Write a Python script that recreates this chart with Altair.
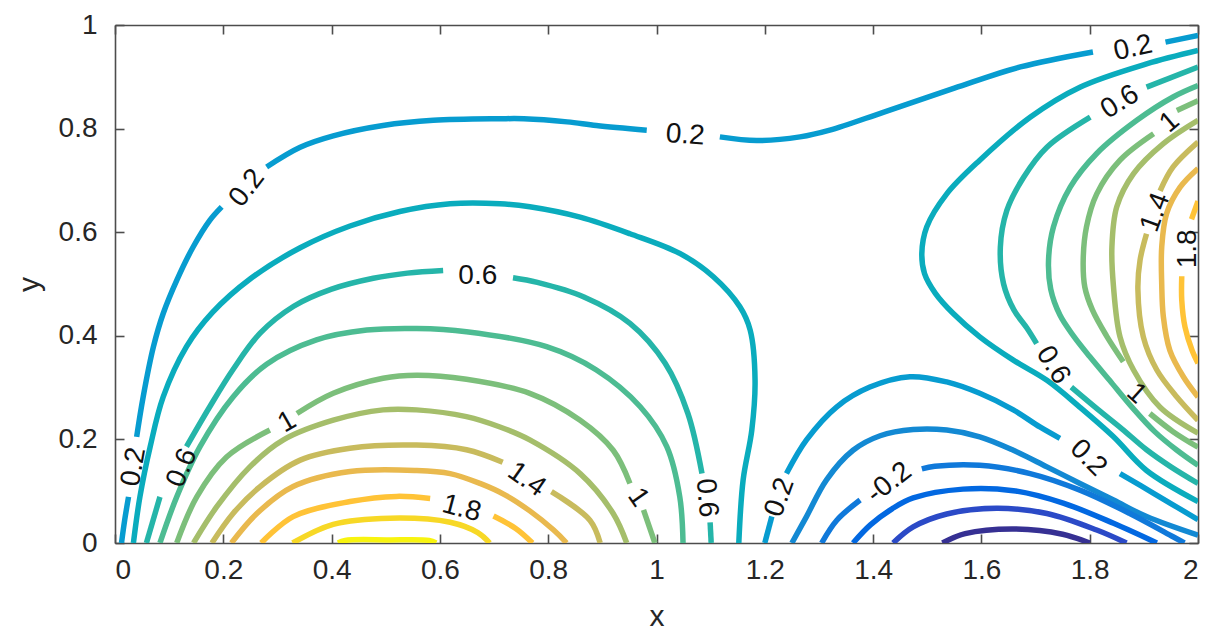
import altair as alt
import pandas as pd

# ---------------- contour levels and colours ----------------
levels = [-0.8, -0.6, -0.4, -0.2, 0.0, 0.2, 0.4, 0.6, 0.8, 1.0, 1.2, 1.4, 1.6, 1.8, 2.0, 2.2]
level_colors = ["#363093", "#2b4ac7", "#0268e1", "#1079da", "#1389d3", "#079cd0",
                "#0aacbd", "#25b5a9", "#4dbc92", "#7cbf7b", "#a5be6b", "#c8bb5d",
                "#e9b94e", "#ffc337", "#f7d826", "#f8f40f"]

x_ticks = [0, 0.2, 0.4, 0.6, 0.8, 1, 1.2, 1.4, 1.6, 1.8, 2]
y_ticks = [0, 0.2, 0.4, 0.6, 0.8, 1]

# ---------------- contour paths (x, y) ----------------
# level 0.2, long line across the top
c02_a = [(0.012, 0), (0.018, 0.045), (0.025, 0.089)]
c02_b = [(0.040, 0.205), (0.052, 0.282), (0.071, 0.379), (0.089, 0.443), (0.114, 0.507),
         (0.144, 0.571), (0.175, 0.623), (0.197, 0.649)]
c02_c = [(0.280, 0.726), (0.342, 0.764), (0.403, 0.786), (0.495, 0.806), (0.588, 0.816),
         (0.711, 0.819), (0.755, 0.819), (0.835, 0.813), (0.889, 0.806), (0.982, 0.797)]
c02_d = [(1.117, 0.784), (1.185, 0.777), (1.265, 0.784), (1.320, 0.797), (1.420, 0.832),
         (1.550, 0.878), (1.672, 0.919), (1.806, 0.948)]
c02_e = [(1.940, 0.967), (2.0, 0.980)]
# level 0.2, lower right
c02_f = [(1.200, 0), (1.213, 0.051)]
c02_g = [(1.240, 0.134), (1.277, 0.199), (1.333, 0.263), (1.394, 0.301), (1.468, 0.321),
         (1.536, 0.311), (1.597, 0.289), (1.659, 0.257), (1.708, 0.224), (1.745, 0.202)]
c02_h = [(1.856, 0.134), (1.918, 0.096), (2.0, 0.045)]

# left lobe (maximum near x = 0.5, y = 0)
c04_left = [(0.034, 0), (0.046, 0.089), (0.065, 0.186), (0.089, 0.282), (0.132, 0.379),
            (0.180, 0.445), (0.250, 0.510), (0.342, 0.570), (0.434, 0.612), (0.526, 0.640),
            (0.619, 0.655), (0.711, 0.655), (0.766, 0.649), (0.859, 0.629), (0.951, 0.597),
            (1.043, 0.559), (1.105, 0.514), (1.154, 0.456), (1.173, 0.411), (1.182, 0.314),
            (1.176, 0.218), (1.160, 0.122), (1.152, 0)]
c06_a = [(0.058, 0), (0.083, 0.089)]
c06_b = [(0.132, 0.186), (0.175, 0.263), (0.218, 0.335), (0.268, 0.405), (0.330, 0.457),
         (0.400, 0.490), (0.477, 0.511), (0.540, 0.521), (0.606, 0.526)]
c06_c = [(0.735, 0.512), (0.780, 0.503), (0.866, 0.475), (0.951, 0.424), (1.016, 0.347),
         (1.058, 0.250), (1.084, 0.134)]
c06_d = [(1.099, 0.040), (1.101, 0)]
c08_left = [(0.083, 0), (0.114, 0.089), (0.157, 0.186), (0.218, 0.282), (0.280, 0.345),
            (0.372, 0.392), (0.465, 0.411), (0.557, 0.414), (0.649, 0.408), (0.797, 0.379),
            (0.889, 0.334), (0.970, 0.263), (1.019, 0.186), (1.043, 0.089), (1.049, 0)]
c10_a = [(0.114, 0), (0.151, 0.089), (0.206, 0.166), (0.286, 0.218)]
c10_b = [(0.336, 0.250), (0.403, 0.289), (0.495, 0.318), (0.557, 0.324), (0.649, 0.316),
         (0.766, 0.289), (0.859, 0.237), (0.920, 0.179), (0.951, 0.115)]
c10_c = [(0.976, 0.064), (0.997, 0)]
c12_left = [(0.145, 0), (0.188, 0.070), (0.249, 0.147), (0.311, 0.199), (0.403, 0.237),
            (0.495, 0.257), (0.557, 0.257), (0.649, 0.244), (0.711, 0.224), (0.766, 0.199),
            (0.859, 0.134), (0.920, 0.057), (0.945, 0)]
c14_a = [(0.179, 0), (0.218, 0.057), (0.268, 0.109), (0.342, 0.160), (0.434, 0.183),
         (0.557, 0.189), (0.649, 0.180), (0.716, 0.156)]
c14_b = [(0.806, 0.099), (0.877, 0.044), (0.896, 0)]
c16_left = [(0.215, 0), (0.262, 0.057), (0.329, 0.109), (0.434, 0.138), (0.557, 0.140),
            (0.619, 0.134), (0.674, 0.115), (0.720, 0.093), (0.766, 0.062), (0.810, 0.025),
            (0.834, 0)]
c18_a = [(0.270, 0), (0.329, 0.051), (0.434, 0.080), (0.520, 0.090), (0.582, 0.086)]
c18_b = [(0.699, 0.052), (0.740, 0.028), (0.771, 0)]
c20_left = [(0.328, 0), (0.403, 0.036), (0.508, 0.048), (0.619, 0.040), (0.670, 0.020),
            (0.692, 0)]
c22_left = [(0.412, 0), (0.425, 0.005), (0.505, 0.006), (0.580, 0.005), (0.593, 0)]

# right lobe (maximum near x = 2, y = 0.5)
c04_right = [(2.0, 0.951), (1.905, 0.925), (1.782, 0.880), (1.690, 0.822), (1.597, 0.739),
             (1.536, 0.674), (1.499, 0.610), (1.490, 0.559), (1.495, 0.520), (1.515, 0.482),
             (1.548, 0.443), (1.597, 0.398), (1.659, 0.353), (1.721, 0.314), (1.782, 0.262),
             (1.844, 0.205), (1.905, 0.140), (2.0, 0.080)]
c06_e = [(2.0, 0.919), (1.905, 0.880)]
c06_f = [(1.801, 0.822), (1.721, 0.764), (1.678, 0.706), (1.647, 0.642), (1.635, 0.571),
         (1.641, 0.500), (1.660, 0.450), (1.684, 0.415), (1.702, 0.385)]
c06_g = [(1.766, 0.301), (1.815, 0.258), (1.860, 0.220), (1.905, 0.180), (1.950, 0.147),
         (2.0, 0.115)]
c08_right = [(2.0, 0.883), (1.954, 0.861), (1.887, 0.816), (1.813, 0.752), (1.764, 0.687),
             (1.733, 0.610), (1.724, 0.546), (1.728, 0.490), (1.745, 0.440), (1.770, 0.400),
             (1.800, 0.360), (1.840, 0.310), (1.880, 0.260), (1.920, 0.215), (1.960, 0.180),
             (2.0, 0.150)]
c10_d = [(2.0, 0.854), (1.961, 0.835)]
c10_e = [(1.918, 0.790), (1.856, 0.739), (1.813, 0.674), (1.794, 0.610), (1.788, 0.546),
         (1.791, 0.494), (1.805, 0.450), (1.831, 0.400), (1.862, 0.350)]
c10_f = [(1.911, 0.250), (1.954, 0.215), (2.0, 0.185)]
c12_right = [(2.0, 0.816), (1.936, 0.771), (1.881, 0.713), (1.850, 0.649), (1.841, 0.571),
             (1.844, 0.494), (1.856, 0.398), (1.881, 0.334), (1.930, 0.262), (2.0, 0.212)]
c14_c = [(2.0, 0.774), (1.954, 0.726), (1.930, 0.680)]
c14_d = [(1.905, 0.597), (1.893, 0.546), (1.889, 0.490), (1.899, 0.398), (1.924, 0.334),
         (1.961, 0.282), (2.0, 0.237)]
c16_right = [(2.0, 0.723), (1.967, 0.687), (1.942, 0.636), (1.933, 0.571), (1.933, 0.500),
             (1.936, 0.437), (1.948, 0.372), (1.973, 0.321), (2.0, 0.282)]
c18_c = [(2.0, 0.660), (1.988, 0.625)]
c18_d = [(1.970, 0.515), (1.970, 0.469), (1.976, 0.417), (1.989, 0.372), (2.0, 0.347)]

# lower right (minimum near x = 1.65, y = 0)
c00_line = [(1.250, 0), (1.277, 0.051), (1.314, 0.122), (1.363, 0.179), (1.413, 0.207),
            (1.474, 0.219), (1.536, 0.218), (1.597, 0.205), (1.659, 0.179), (1.721, 0.147),
            (1.782, 0.115), (1.844, 0.083), (1.905, 0.051), (2.0, 0.015)]
cm02_a = [(1.305, 0), (1.333, 0.044), (1.376, 0.083)]
cm02_b = [(1.490, 0.143), (1.514, 0.148), (1.597, 0.150), (1.690, 0.134), (1.782, 0.102),
          (1.874, 0.057), (1.954, 0.012), (1.975, 0)]
cm04_line = [(1.363, 0), (1.395, 0.035), (1.435, 0.066), (1.474, 0.087), (1.566, 0.104),
             (1.659, 0.101), (1.751, 0.077), (1.844, 0.038), (1.924, 0)]
cm06_line = [(1.437, 0), (1.474, 0.031), (1.536, 0.056), (1.628, 0.067), (1.721, 0.057),
             (1.813, 0.025), (1.868, 0)]
cm08_line = [(1.528, 0), (1.570, 0.018), (1.660, 0.027), (1.750, 0.017), (1.800, 0)]

left_paths = [
    (0.2, c02_a), (0.2, c02_b), (0.2, c02_c), (0.2, c02_d), (0.2, c02_e),
    (0.4, c04_left), (0.6, c06_a), (0.6, c06_b), (0.6, c06_c), (0.6, c06_d),
    (0.8, c08_left), (1.0, c10_a), (1.0, c10_b), (1.0, c10_c), (1.2, c12_left),
    (1.4, c14_a), (1.4, c14_b), (1.6, c16_left), (1.8, c18_a), (1.8, c18_b),
    (2.0, c20_left), (2.2, c22_left),
]
right_paths = [
    (0.2, c02_f), (0.2, c02_g), (0.2, c02_h),
    (0.4, c04_right), (0.6, c06_e), (0.6, c06_f), (0.6, c06_g), (0.8, c08_right),
    (1.0, c10_d), (1.0, c10_e), (1.0, c10_f), (1.2, c12_right), (1.4, c14_c), (1.4, c14_d),
    (1.6, c16_right), (1.8, c18_c), (1.8, c18_d),
    (0.0, c00_line), (-0.2, cm02_a), (-0.2, cm02_b), (-0.4, cm04_line),
    (-0.6, cm06_line), (-0.8, cm08_line),
]

# inline contour labels
label_x = [0.035, 0.124, 0.244, 0.318, 0.670, 1.053, 0.760, 0.640, 0.966, 1.092, 1.228,
           1.430, 1.797, 1.732, 1.886, 1.880, 1.856, 1.948, 1.922, 1.982]
label_y = [0.147, 0.145, 0.685, 0.233, 0.515, 0.787, 0.122, 0.066, 0.088, 0.087, 0.088,
           0.116, 0.164, 0.343, 0.288, 0.955, 0.851, 0.812, 0.638, 0.568]
label_text = ["0.2", "0.6", "0.2", "1", "0.6", "0.2", "1.4", "1.8", "1", "0.6", "0.2",
              "-0.2", "0.2", "0.6", "1", "0.2", "0.6", "1", "1.4", "1.8"]
label_angle = [280, 293, 308, 330, 0, 4, 35, 15, 55, 85, 290,
               322, 45, 58, 42, 348, 328, 320, 290, 270]


def to_frame(paths, prefix):
    rows = []
    for k, (lev, pts) in enumerate(paths):
        for i, (px, py) in enumerate(pts):
            rows.append({"x": px, "y": py, "level": lev, "seg": f"{prefix}{k}", "i": i})
    return pd.DataFrame(rows)


df_left = to_frame(left_paths, "L")
df_right = to_frame(right_paths, "R")
df_labels = pd.DataFrame({"x": label_x, "y": label_y, "t": label_text, "a": label_angle})

W, H = 1083, 518
FONT = "Liberation Sans, Arial, Helvetica, sans-serif"
AX = "#4d4d4d"
TXT = "#262626"
xs = alt.Scale(domain=[0, 2], nice=False, zero=False)
ys = alt.Scale(domain=[0, 1], nice=False, zero=False)
col = alt.Color("level:O", scale=alt.Scale(domain=levels, range=level_colors), legend=None)
line_style = dict(strokeWidth=5.5, clip=True, strokeCap="butt", strokeJoin="round",
                  interpolate="catmull-rom")

# layer 1: lines + bottom/left axes with labels
lines_left = alt.Chart(df_left).mark_line(**line_style).encode(
    x=alt.X("x:Q", scale=xs, axis=alt.Axis(
        orient="bottom", values=x_ticks, format="~g", ticks=False, tickSize=0, domain=True,
        labelFontSize=28, labelPadding=13, title="x", titleFontSize=30,
        titleFontWeight="normal", titleY=82, titleBaseline="alphabetic", grid=False,
        labelFont=FONT, titleFont=FONT, labelColor=TXT, titleColor=TXT,
        domainColor=AX, domainWidth=1.6)),
    y=alt.Y("y:Q", scale=ys, axis=alt.Axis(
        orient="left", values=y_ticks, format="~g", ticks=False, tickSize=0, domain=True,
        labelFontSize=28, labelPadding=18, title="y", titleFontSize=30,
        titleFontWeight="normal", titleX=-86, titleY=H / 2, titleAngle=270,
        titleBaseline="middle", grid=False, labelFont=FONT, titleFont=FONT,
        labelColor=TXT, titleColor=TXT, domainColor=AX, domainWidth=1.6)),
    color=col,
    detail="seg:N",
    order="i:Q",
)

# layer 2: lines + top/right frame with inward ticks
lines_right = alt.Chart(df_right).mark_line(**line_style).encode(
    x=alt.X("x:Q", scale=xs, axis=alt.Axis(
        orient="bottom", offset=-H, values=x_ticks, labels=False, ticks=True, tickSize=9,
        domain=True, title=None, grid=False, domainColor=AX, tickColor=AX,
        domainWidth=1.6, tickWidth=1.6)),
    y=alt.Y("y:Q", scale=ys, axis=alt.Axis(
        orient="left", offset=-W, values=y_ticks, labels=False, ticks=True, tickSize=9,
        domain=True, title=None, grid=False, domainColor=AX, tickColor=AX,
        domainWidth=1.6, tickWidth=1.6)),
    color=col,
    detail="seg:N",
    order="i:Q",
)

# layer 3: labels + inward ticks on bottom/left
labels = alt.Chart(df_labels).mark_text(font=FONT, fontSize=28, color="#111111",
                                        align="center", baseline="middle").encode(
    x=alt.X("x:Q", scale=xs, axis=alt.Axis(
        orient="top", offset=-H, values=x_ticks, labels=False, ticks=True, tickSize=9,
        domain=False, title=None, grid=False, tickColor=AX, tickWidth=1.6)),
    y=alt.Y("y:Q", scale=ys, axis=alt.Axis(
        orient="right", offset=-W, values=y_ticks, labels=False, ticks=True, tickSize=9,
        domain=False, title=None, grid=False, tickColor=AX, tickWidth=1.6)),
    text="t:N",
    angle=alt.Angle("a:Q", scale=None),
)

chart = alt.layer(lines_left, lines_right, labels).resolve_axis(
    x="independent", y="independent"
).properties(
    width=W, height=H,
    autosize=alt.AutoSizeParams(type="none"),
    padding={"left": 107, "top": 17, "right": 4, "bottom": 88},
).configure_view(stroke=None).configure(background="white")

chart.save("out.html", embed_options={"renderer": "svg", "actions": False})
